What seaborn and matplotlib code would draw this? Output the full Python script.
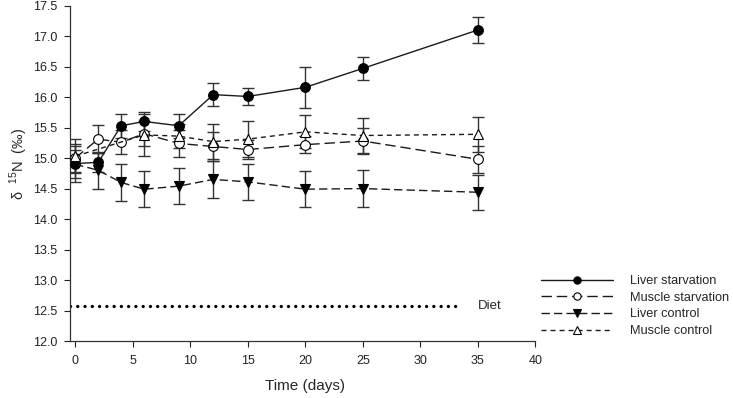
import pandas as pd
import matplotlib
matplotlib.use("Agg")
import matplotlib.pyplot as plt
import seaborn as sns

days = [0, 2, 4, 6, 9, 12, 15, 20, 25, 35]
muscle_ctrl_days = [0, 6, 9, 12, 15, 20, 25, 35]

liver_starv = [14.91, 14.93, 15.53, 15.60, 15.53, 16.04, 16.01, 16.16, 16.47, 17.10]
liver_starv_err = [0.23, 0.16, 0.20, 0.15, 0.20, 0.19, 0.14, 0.34, 0.19, 0.22]
muscle_starv = [15.00, 15.31, 15.26, 15.40, 15.24, 15.19, 15.14, 15.22, 15.28, 14.98]
muscle_starv_err = [0.23, 0.23, 0.20, 0.20, 0.22, 0.24, 0.16, 0.14, 0.22, 0.22]
liver_ctrl = [14.90, 14.80, 14.60, 14.49, 14.54, 14.65, 14.61, 14.49, 14.50, 14.44]
liver_ctrl_err = [0.29, 0.30, 0.30, 0.30, 0.30, 0.30, 0.29, 0.30, 0.30, 0.29]
muscle_ctrl = [15.03, 15.38, 15.36, 15.27, 15.31, 15.43, 15.37, 15.39]
muscle_ctrl_err = [0.28, 0.35, 0.20, 0.29, 0.29, 0.27, 0.28, 0.29]

diet = 12.58

sns.set_style("ticks")
plt.rcParams["font.family"] = ["Liberation Sans", "DejaVu Sans"]
plt.rcParams["mathtext.fontset"] = "custom"
plt.rcParams["mathtext.rm"] = "Liberation Sans"

fig = plt.figure(figsize=(7.33, 3.98), dpi=100)
ax = fig.add_axes([0.0955, 0.143, 0.635, 0.843])

series = [
    ("Liver starvation", days, liver_starv, liver_starv_err, "o", "black", "-"),
    ("Muscle starvation", days, muscle_starv, muscle_starv_err, "o", "white", (0, (7.5, 3.5))),
    ("Liver control", days, liver_ctrl, liver_ctrl_err, "v", "black", (0, (6, 3))),
    ("Muscle control", muscle_ctrl_days, muscle_ctrl, muscle_ctrl_err, "^", "white", (0, (3.6, 2.9))),
]

for name, x, y, err, mk, fc, ls in series:
    df = pd.DataFrame({"day": x, "d15N": y})
    ax.errorbar(df["day"], df["d15N"], yerr=err, fmt="none", ecolor="#333333",
                elinewidth=1, capsize=4.3, capthick=1, zorder=2)
    sns.lineplot(data=df, x="day", y="d15N", ax=ax, label=name, errorbar=None,
                 color="#1a1a1a", linewidth=1, linestyle=ls, marker=mk,
                 markersize=7, markerfacecolor=fc, markeredgecolor="black",
                 markeredgewidth=0.8, zorder=3)

# diet reference line, round dots
ax.hlines(diet, -0.45, 33.5, colors="black", linewidth=2.4,
          linestyles=(0, (0.01, 2.17)), capstyle="round")
ax.text(35, diet, "Diet", fontsize=9.5, va="center", ha="left")

ax.set_xlim(-0.45, 40)
ax.set_ylim(12.0, 17.5)
ax.set_xticks(range(0, 41, 5))
ax.set_yticks([12 + 0.5 * i for i in range(12)])
ax.yaxis.set_major_formatter(matplotlib.ticker.FormatStrFormatter("%.1f"))
ax.tick_params(direction="out", length=4, width=0.8, labelsize=9, colors="#222222")
ax.tick_params(axis="x", pad=6)
ax.tick_params(axis="y", pad=5)
for s in ["left", "bottom"]:
    ax.spines[s].set_linewidth(0.9)
    ax.spines[s].set_color("#333333")
sns.despine(ax=ax)

ax.set_xlabel("Time (days)", fontsize=11)
ax.set_ylabel("δ  $^{15}$N  (‰)", fontsize=10.5)
ax.xaxis.set_label_coords(0.505, -0.112)
ax.yaxis.set_label_coords(-0.085, 0.527)

handles, labels = ax.get_legend_handles_labels()
ax.legend(handles, labels, loc="upper left", bbox_to_anchor=(541 / 733, 1 - 275 / 398),
          bbox_transform=fig.transFigure, frameon=False, fontsize=9.2,
          handlelength=5.6, handletextpad=1.4, labelspacing=0.37,
          markerscale=0.75, borderpad=0, borderaxespad=0)

fig.savefig("out.png", dpi=100)
